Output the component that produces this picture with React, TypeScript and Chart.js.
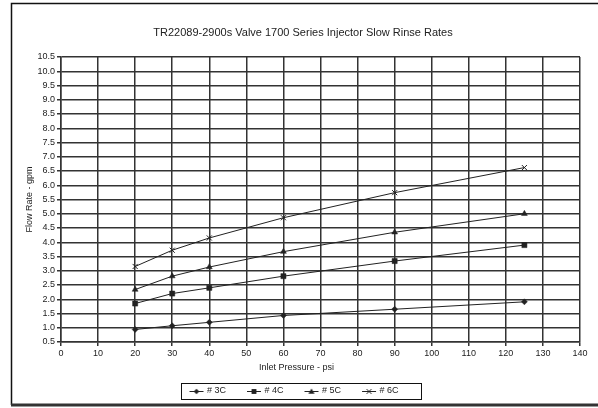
import React, { useEffect, useRef } from "react";
import { Chart, registerables } from "chart.js";

Chart.register(...registerables);

const chartTitle = "TR22089-2900s Valve 1700 Series Injector Slow Rinse Rates";
const xAxisTitle = "Inlet Pressure - psi";
const yAxisTitle = "Flow Rate - gpm";

const pressures = [20, 30, 40, 60, 90, 125];
const series3C = [0.94, 1.07, 1.19, 1.43, 1.65, 1.91];
const series4C = [1.85, 2.2, 2.4, 2.81, 3.34, 3.9];
const series5C = [2.34, 2.81, 3.13, 3.67, 4.35, 5.0];
const series6C = [3.15, 3.72, 4.15, 4.86, 5.74, 6.62];

const seriesNames = ["# 3C", "# 4C", "# 5C", "# 6C"];
const seriesStyles = ["rectRot", "rect", "triangle", "crossRot"];
const seriesRadius = [3, 3.6, 3.4, 3.6];

const xMin = 0;
const xMax = 140;
const xStep = 10;
const yMin = 0.5;
const yMax = 10.5;
const yStep = 0.5;

const FONT = "'Liberation Sans', Arial, Helvetica, sans-serif";
const INK = "#222";
const GRID = "#333";

function makeLegendImage(style: string, radius: number): HTMLCanvasElement {
  const c = document.createElement("canvas");
  c.width = 17;
  c.height = 10;
  const ctx = c.getContext("2d")!;
  ctx.strokeStyle = INK;
  ctx.fillStyle = INK;
  ctx.lineWidth = 1;
  ctx.beginPath();
  ctx.moveTo(2, 5.5);
  ctx.lineTo(16, 5.5);
  ctx.stroke();
  const cx = 9;
  const cy = 5.5;
  const r = radius * 0.9;
  ctx.beginPath();
  if (style === "rectRot") {
    ctx.moveTo(cx, cy - r);
    ctx.lineTo(cx + r, cy);
    ctx.lineTo(cx, cy + r);
    ctx.lineTo(cx - r, cy);
    ctx.closePath();
    ctx.fill();
  } else if (style === "rect") {
    ctx.rect(cx - r * 0.75, cy - r * 0.75, r * 1.5, r * 1.5);
    ctx.fill();
  } else if (style === "triangle") {
    ctx.moveTo(cx, cy - r);
    ctx.lineTo(cx + r, cy + r * 0.7);
    ctx.lineTo(cx - r, cy + r * 0.7);
    ctx.closePath();
    ctx.fill();
  } else {
    const d = r * 0.75;
    ctx.moveTo(cx - d, cy - d);
    ctx.lineTo(cx + d, cy + d);
    ctx.moveTo(cx + d, cy - d);
    ctx.lineTo(cx - d, cy + d);
    ctx.stroke();
  }
  return c;
}

const framePlugin = {
  id: "frame",
  beforeDraw(chart: any) {
    const { ctx, width, height } = chart;
    ctx.save();
    ctx.fillStyle = "#ffffff";
    ctx.fillRect(0, 0, width, height);
    ctx.strokeStyle = "#111";
    ctx.lineWidth = 1.5;
    ctx.beginPath();
    ctx.moveTo(11.5, height - 3);
    ctx.lineTo(11.5, 3.5);
    ctx.lineTo(width, 3.5);
    ctx.stroke();
    ctx.strokeStyle = "#333";
    ctx.lineWidth = 3;
    ctx.beginPath();
    ctx.moveTo(11, height - 3);
    ctx.lineTo(width, height - 3);
    ctx.stroke();
    ctx.restore();
  },
  afterLayout(chart: any) {
    if (chart.titleBlock) {
      chart.titleBlock.left += 9;
      chart.titleBlock.right += 9;
    }
  },
  afterDraw(chart: any) {
    const { ctx } = chart;
    const legend = chart.legend;
    ctx.save();
    // legend frame
    if (legend && legend.legendHitBoxes && legend.legendHitBoxes.length) {
      const boxes = legend.legendHitBoxes;
      const first = boxes[0];
      const last = boxes[boxes.length - 1];
      const left = Math.round(first.left) - 7.5;
      const right = Math.round(last.left + last.width) + 22.5;
      const cy = first.top + first.height / 2;
      ctx.strokeStyle = "#111";
      ctx.lineWidth = 1;
      ctx.strokeRect(left, Math.round(cy - 8) + 0.5, right - left, 16);
    }
    // x-axis title
    const area = chart.chartArea;
    ctx.fillStyle = INK;
    ctx.font = "9px " + FONT;
    ctx.textAlign = "center";
    ctx.textBaseline = "middle";
    ctx.fillText(xAxisTitle, (area.left + area.right) / 2 - 24, area.bottom + 26);
    ctx.restore();
  },
};

export default function App() {
  const ref = useRef<HTMLCanvasElement | null>(null);

  useEffect(() => {
    document.body.style.margin = "0";
    const canvas = ref.current!;
    const all = [series3C, series4C, series5C, series6C];
    const images = seriesStyles.map((s, i) => makeLegendImage(s, seriesRadius[i]));
    const chart = new Chart(canvas, {
      type: "line",
      data: {
        labels: pressures,
        datasets: all.map((vals, i) => ({
          label: seriesNames[i],
          data: vals.map((v, j) => ({ x: pressures[j], y: v })),
          borderColor: INK,
          backgroundColor: INK,
          borderWidth: 1,
          pointStyle: seriesStyles[i] as any,
          pointRadius: seriesRadius[i],
          pointBorderWidth: seriesStyles[i] === "crossRot" ? 1 : 0.5,
          pointBorderColor: INK,
          pointBackgroundColor: INK,
          tension: 0,
          fill: false,
        })),
      },
      options: {
        responsive: false,
        animation: false,
        devicePixelRatio: 1,
        layout: { padding: { left: 8, right: 18, top: 0, bottom: 2.5 } },
        scales: {
          x: {
            type: "linear",
            min: xMin,
            max: xMax,
            afterFit: (s: any) => {
              s.height = 23.5;
            },
            ticks: {
              stepSize: xStep,
              padding: 2.5,
              color: INK,
              font: { family: FONT, size: 9 },
              maxRotation: 0,
            },
            grid: { color: GRID, lineWidth: 1.5, tickLength: 4, tickColor: GRID },
            border: { color: GRID, width: 1.5 },
          },
          y: {
            type: "linear",
            min: yMin,
            max: yMax,
            afterFit: (s: any) => {
              s.width = 53;
            },
            ticks: {
              stepSize: yStep,
              padding: 2,
              color: INK,
              font: { family: FONT, size: 9 },
              callback: (v: any) => Number(v).toFixed(1),
            },
            grid: { color: GRID, lineWidth: 1.5, tickLength: 4, tickColor: GRID },
            border: { color: GRID, width: 1.5 },
            title: {
              display: true,
              text: yAxisTitle,
              color: INK,
              font: { family: FONT, size: 9 },
              padding: { top: 16.6, bottom: 0 },
            },
          },
        },
        plugins: {
          title: {
            display: true,
            text: chartTitle,
            color: INK,
            font: { family: FONT, size: 11, weight: "normal" },
            padding: { top: 26.4, bottom: 17.4 },
          },
          legend: {
            display: true,
            position: "bottom",
            labels: {
              usePointStyle: true,
              pointStyleWidth: 13,
              padding: 21,
              color: INK,
              font: { family: FONT, size: 9 },
              generateLabels: (c: any) => {
                const items = (Chart.defaults as any).plugins.legend.labels.generateLabels(c);
                items.forEach((it: any, i: number) => {
                  it.pointStyle = images[i];
                });
                return items;
              },
            },
          },
          tooltip: { enabled: false },
        },
      },
      plugins: [framePlugin],
    });
    return () => chart.destroy();
  }, []);

  return (
    <div style={{ position: "absolute", left: 0, top: 0, width: 598, height: 408 }}>
      <canvas ref={ref} width={598} height={408} style={{ width: 598, height: 408, display: "block" }} />
    </div>
  );
}
